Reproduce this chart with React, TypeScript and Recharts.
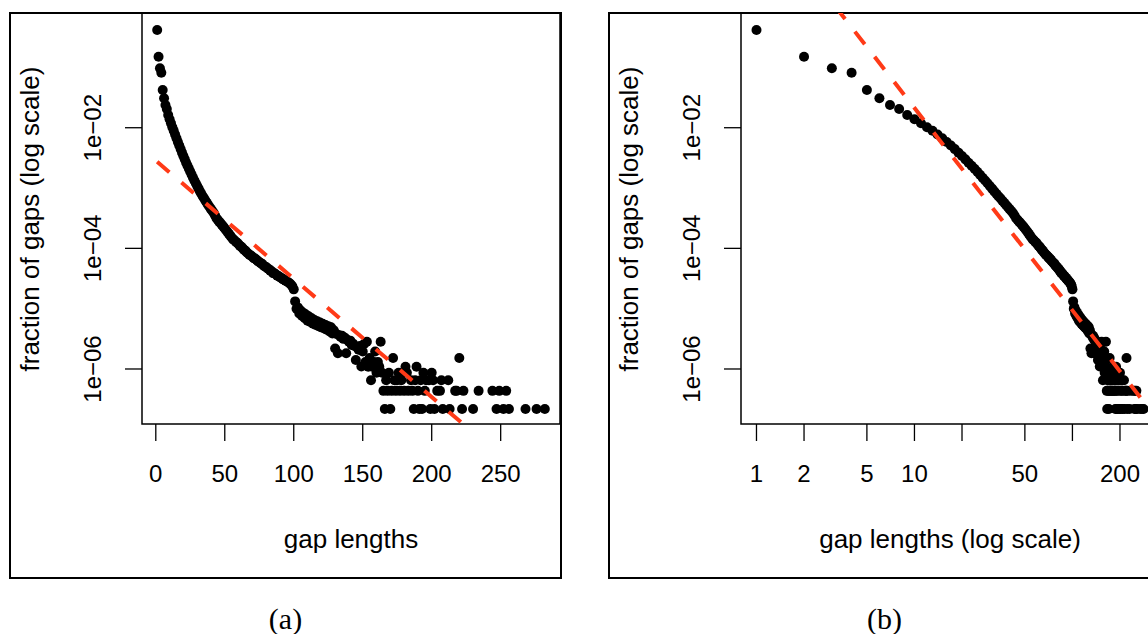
import React from 'react';
import { ScatterChart, Scatter, XAxis, YAxis, ReferenceLine, ReferenceArea } from 'recharts';

// gap length (x) and fraction of gaps (y)
const gapLengths = [
  1, 2, 3, 4, 5, 6, 7, 8, 9, 10, 11, 12, 13, 14, 15, 16, 17, 18, 19, 20,
  21, 22, 23, 24, 25, 26, 27, 28, 29, 30, 31, 32, 33, 34, 35, 36, 37, 38, 39, 40,
  41, 42, 43, 44, 45, 46, 47, 48, 49, 50, 51, 52, 53, 54, 55, 56, 57, 58, 59, 60,
  61, 62, 63, 64, 65, 66, 67, 68, 69, 70, 71, 72, 73, 74, 75, 76, 77, 78, 79, 80,
  81, 82, 83, 84, 85, 86, 87, 88, 89, 90, 91, 92, 93, 94, 95, 96, 97, 98, 99, 100,
  101, 102, 103, 104, 105, 106, 107, 108, 109, 110, 111, 112, 113, 114, 115, 116, 117, 118, 119, 120,
  121, 122, 123, 124, 125, 126, 127, 128, 129, 130, 131, 132, 133, 134, 135, 136, 137, 138, 139, 140,
  141, 142, 143, 144, 145, 146, 147, 148, 149, 150, 151, 152, 153, 154, 155, 156, 157, 158, 159, 160,
  161, 162, 163, 164, 165, 166, 167, 168, 169, 170, 171, 172, 173, 174, 175, 176, 177, 178, 179, 180,
  181, 182, 183, 185, 186, 187, 188, 189, 190, 191, 192, 193, 194, 195, 196, 198, 199, 200,
  201, 202, 204, 206, 207, 208, 212, 213, 217, 218, 220, 222, 223, 230, 234,
  244, 247, 249, 252, 254, 256, 268, 276, 282,
];

const gapFractions = [
  0.417, 0.150, 0.0966, 0.0817, 0.0422, 0.0308, 0.0238, 0.0204, 0.0163, 0.0138,
  0.0119, 0.0102, 0.00891, 0.00771, 0.00668, 0.00581, 0.00506, 0.00442, 0.00386, 0.00339,
  0.00299, 0.00263, 0.00234, 0.00209, 0.00186, 0.00166, 0.00148, 0.00133, 0.00120, 0.00108,
  0.000977, 0.000881, 0.000804, 0.000733, 0.000676, 0.000617, 0.000569, 0.000525, 0.000484, 0.000447,
  0.000417, 0.000385, 0.000351, 0.000316, 0.000295, 0.000275, 0.000260, 0.000243, 0.000229, 0.000214,
  0.000200, 0.000186, 0.000174, 0.000162, 0.000151, 0.000141, 0.000136, 0.000129, 0.000124, 0.000117,
  0.000110, 0.000106, 0.000100, 9.44e-5, 9.12e-5, 8.51e-5, 8.22e-5, 7.76e-5, 7.59e-5, 7.24e-5,
  6.84e-5, 6.76e-5, 6.46e-5, 6.10e-5, 5.96e-5, 5.69e-5, 5.56e-5, 5.19e-5, 5.01e-5, 4.90e-5,
  4.62e-5, 4.52e-5, 4.27e-5, 4.17e-5, 3.89e-5, 3.85e-5, 3.72e-5, 3.51e-5, 3.47e-5, 3.31e-5,
  3.24e-5, 3.09e-5, 3.02e-5, 2.92e-5, 2.82e-5, 2.75e-5, 2.63e-5, 2.51e-5, 2.34e-5, 2.09e-5,
  1.32e-5, 1.00e-5, 1.05e-5, 8.32e-6, 9.33e-6, 7.59e-6, 8.51e-6, 6.92e-6, 7.94e-6, 6.31e-6,
  7.41e-6, 6.03e-6, 6.92e-6, 5.62e-6, 6.46e-6, 5.37e-6, 6.17e-6, 5.13e-6, 5.89e-6, 4.90e-6,
  5.62e-6, 4.68e-6, 5.37e-6, 4.47e-6, 5.13e-6, 4.17e-6, 4.90e-6, 3.89e-6, 4.37e-6, 2.19e-6,
  3.80e-6, 1.82e-6, 3.63e-6, 3.39e-6, 3.55e-6, 3.16e-6, 3.31e-6, 1.82e-6, 3.02e-6, 2.82e-6,
  2.95e-6, 2.51e-6, 2.63e-6, 2.40e-6, 1.41e-6, 2.29e-6, 2.09e-6, 2.40e-6, 1.10e-6, 1.95e-6,
  2.60e-6, 1.30e-6, 2.82e-6, 1.09e-6, 1.52e-6, 6.51e-7, 1.09e-6, 1.30e-6, 1.95e-6, 8.68e-7,
  1.30e-6, 1.09e-6, 2.82e-6, 8.68e-7, 4.34e-7, 2.17e-7, 6.51e-7, 4.34e-7, 8.68e-7, 2.17e-7,
  4.34e-7, 1.52e-6, 6.51e-7, 4.34e-7, 6.51e-7, 8.68e-7, 4.34e-7, 6.51e-7, 8.68e-7, 4.34e-7,
  1.09e-6, 8.68e-7, 4.34e-7, 6.51e-7, 4.34e-7, 2.17e-7, 6.51e-7, 1.09e-6, 4.34e-7, 2.17e-7,
  6.51e-7, 2.17e-7, 8.68e-7, 4.34e-7, 6.51e-7, 6.51e-7, 2.17e-7, 8.68e-7,
  6.51e-7, 2.17e-7, 4.34e-7, 4.34e-7, 6.51e-7, 2.17e-7, 6.51e-7, 2.17e-7, 4.34e-7, 4.34e-7,
  1.52e-6, 2.17e-7, 4.34e-7, 2.17e-7, 4.34e-7,
  4.34e-7, 2.17e-7, 4.34e-7, 2.17e-7, 4.34e-7, 2.17e-7, 2.17e-7, 2.17e-7, 2.17e-7,
];

// fitted lines (endpoints of the dashed red fits)
const expFitA = [
  { x: 1, y: 2.73e-3 },
  { x: 282, y: 8.43e-9 },
];
const powerFitB = [
  { x: 1, y: 48.4 },
  { x: 282, y: 2.88e-7 },
];

const xTicksA = [0, 50, 100, 150, 200, 250];
const xTicksB = [1, 2, 5, 10, 20, 50, 100, 200];
const xLabelsB = [1, 2, 5, 10, 50, 200];
const yTicks = [1e-6, 1e-4, 1e-2];
const yTickLabels: Record<string, string> = {
  '0.000001': '1e\u221206',
  '0.0001': '1e\u221204',
  '0.01': '1e\u221202',
};

const xDomainA: [number, number] = [-10, 293];
const xDomainB: [number, number] = [0.798, 353.2];
const yDomain: [number, number] = [1.2246e-7, 0.798];

const points = gapLengths.map((x, i) => ({ x, y: gapFractions[i] }));

const FONT = '"Liberation Sans", Arial, Helvetica, sans-serif';
const FIT_COLOR = '#ff3a17';

const XTick = (labels: number[] | null) => (props: any) => {
  const { x, y, payload } = props;
  if (labels && !labels.includes(payload.value)) return <g />;
  return (
    <text x={x} y={y + 32} textAnchor="middle" dominantBaseline="central" fontSize={24} fontFamily={FONT} fill="#000">
      {String(payload.value)}
    </text>
  );
};

const YTick = (props: any) => {
  const { x, y, payload } = props;
  const cx = x - 32;
  const label = yTickLabels[String(payload.value)] ?? String(payload.value);
  return (
    <text x={cx} y={y} transform={`rotate(-90 ${cx} ${y})`} textAnchor="middle" dominantBaseline="central" fontSize={24} fontFamily={FONT} fill="#000">
      {label}
    </text>
  );
};

const Dot = (props: any) => <circle cx={props.cx} cy={props.cy} r={5} fill="#000" />;

type PanelProps = {
  left: number;
  logX: boolean;
  xTitle: string;
  caption: string;
};

const Panel = ({ left, logX, xTitle, caption }: PanelProps) => {
  const xDomain = logX ? xDomainB : xDomainA;
  const fit = logX ? powerFitB : expFitA;
  return (
    <div style={{ position: 'absolute', left, top: 0, width: 570, height: 634 }}>
      <div
        style={{
          position: 'absolute', left: 9, top: 12, width: 553, height: 567,
          border: '2px solid #000', boxSizing: 'border-box',
        }}
      />
      <div style={{ position: 'absolute', left: 0, top: 0 }}>
        <ScatterChart width={570} height={634} margin={{ top: 13, right: 10, bottom: 150, left: 42 }}>
          <XAxis
            dataKey="x"
            type="number"
            scale={logX ? 'log' : 'linear'}
            domain={xDomain}
            allowDataOverflow
            ticks={logX ? xTicksB : xTicksA}
            interval={0}
            height={60}
            axisLine={false}
            tickSize={17}
            tickMargin={0}
            tickLine={{ stroke: '#000', strokeWidth: 1.3 }}
            tick={XTick(logX ? xLabelsB : null)}
          />
          <YAxis
            dataKey="y"
            type="number"
            scale="log"
            domain={yDomain}
            allowDataOverflow
            ticks={yTicks}
            interval={0}
            width={100}
            axisLine={false}
            tickSize={17}
            tickMargin={0}
            tickLine={{ stroke: '#000', strokeWidth: 1.3 }}
            tick={YTick}
          />
          <ReferenceArea
            x1={xDomain[0]} x2={xDomain[1]} y1={yDomain[0]} y2={yDomain[1]}
            fill="none" fillOpacity={0} stroke="#000" strokeWidth={1.5} strokeOpacity={1}
            ifOverflow="visible"
          />
          <Scatter data={points} shape={Dot} isAnimationActive={false} />
          <ReferenceLine
            segment={fit}
            stroke={FIT_COLOR}
            strokeWidth={4}
            strokeDasharray="16 16"
            ifOverflow="hidden"
            zIndex={1000}
          />
        </ScatterChart>
      </div>
      <div
        style={{
          position: 'absolute', left: 351, top: 539, transform: 'translate(-50%, -50%)',
          fontFamily: FONT, fontSize: 26, lineHeight: 1, whiteSpace: 'nowrap', color: '#000',
        }}
      >
        {xTitle}
      </div>
      <div
        style={{
          position: 'absolute', left: 30, top: 219, transform: 'translate(-50%, -50%) rotate(-90deg)',
          fontFamily: FONT, fontSize: 26, lineHeight: 1, whiteSpace: 'nowrap', color: '#000',
        }}
      >
        fraction of gaps (log scale)
      </div>
      <div
        style={{
          position: 'absolute', left: 285.5, top: 619, transform: 'translate(-50%, -50%)',
          fontFamily: '"Liberation Serif", "Times New Roman", serif', fontSize: 30, lineHeight: 1,
          whiteSpace: 'nowrap', color: '#000',
        }}
      >
        {caption}
      </div>
    </div>
  );
}

export default function App() {
  return (
    <div
      style={{
        position: 'absolute', left: 0, top: 0, width: 1148, height: 634,
        overflow: 'hidden', background: '#fff',
      }}
    >
      <Panel left={0} logX={false} xTitle="gap lengths" caption="(a)" />
      <Panel left={599} logX={true} xTitle="gap lengths (log scale)" caption="(b)" />
    </div>
  );
}
